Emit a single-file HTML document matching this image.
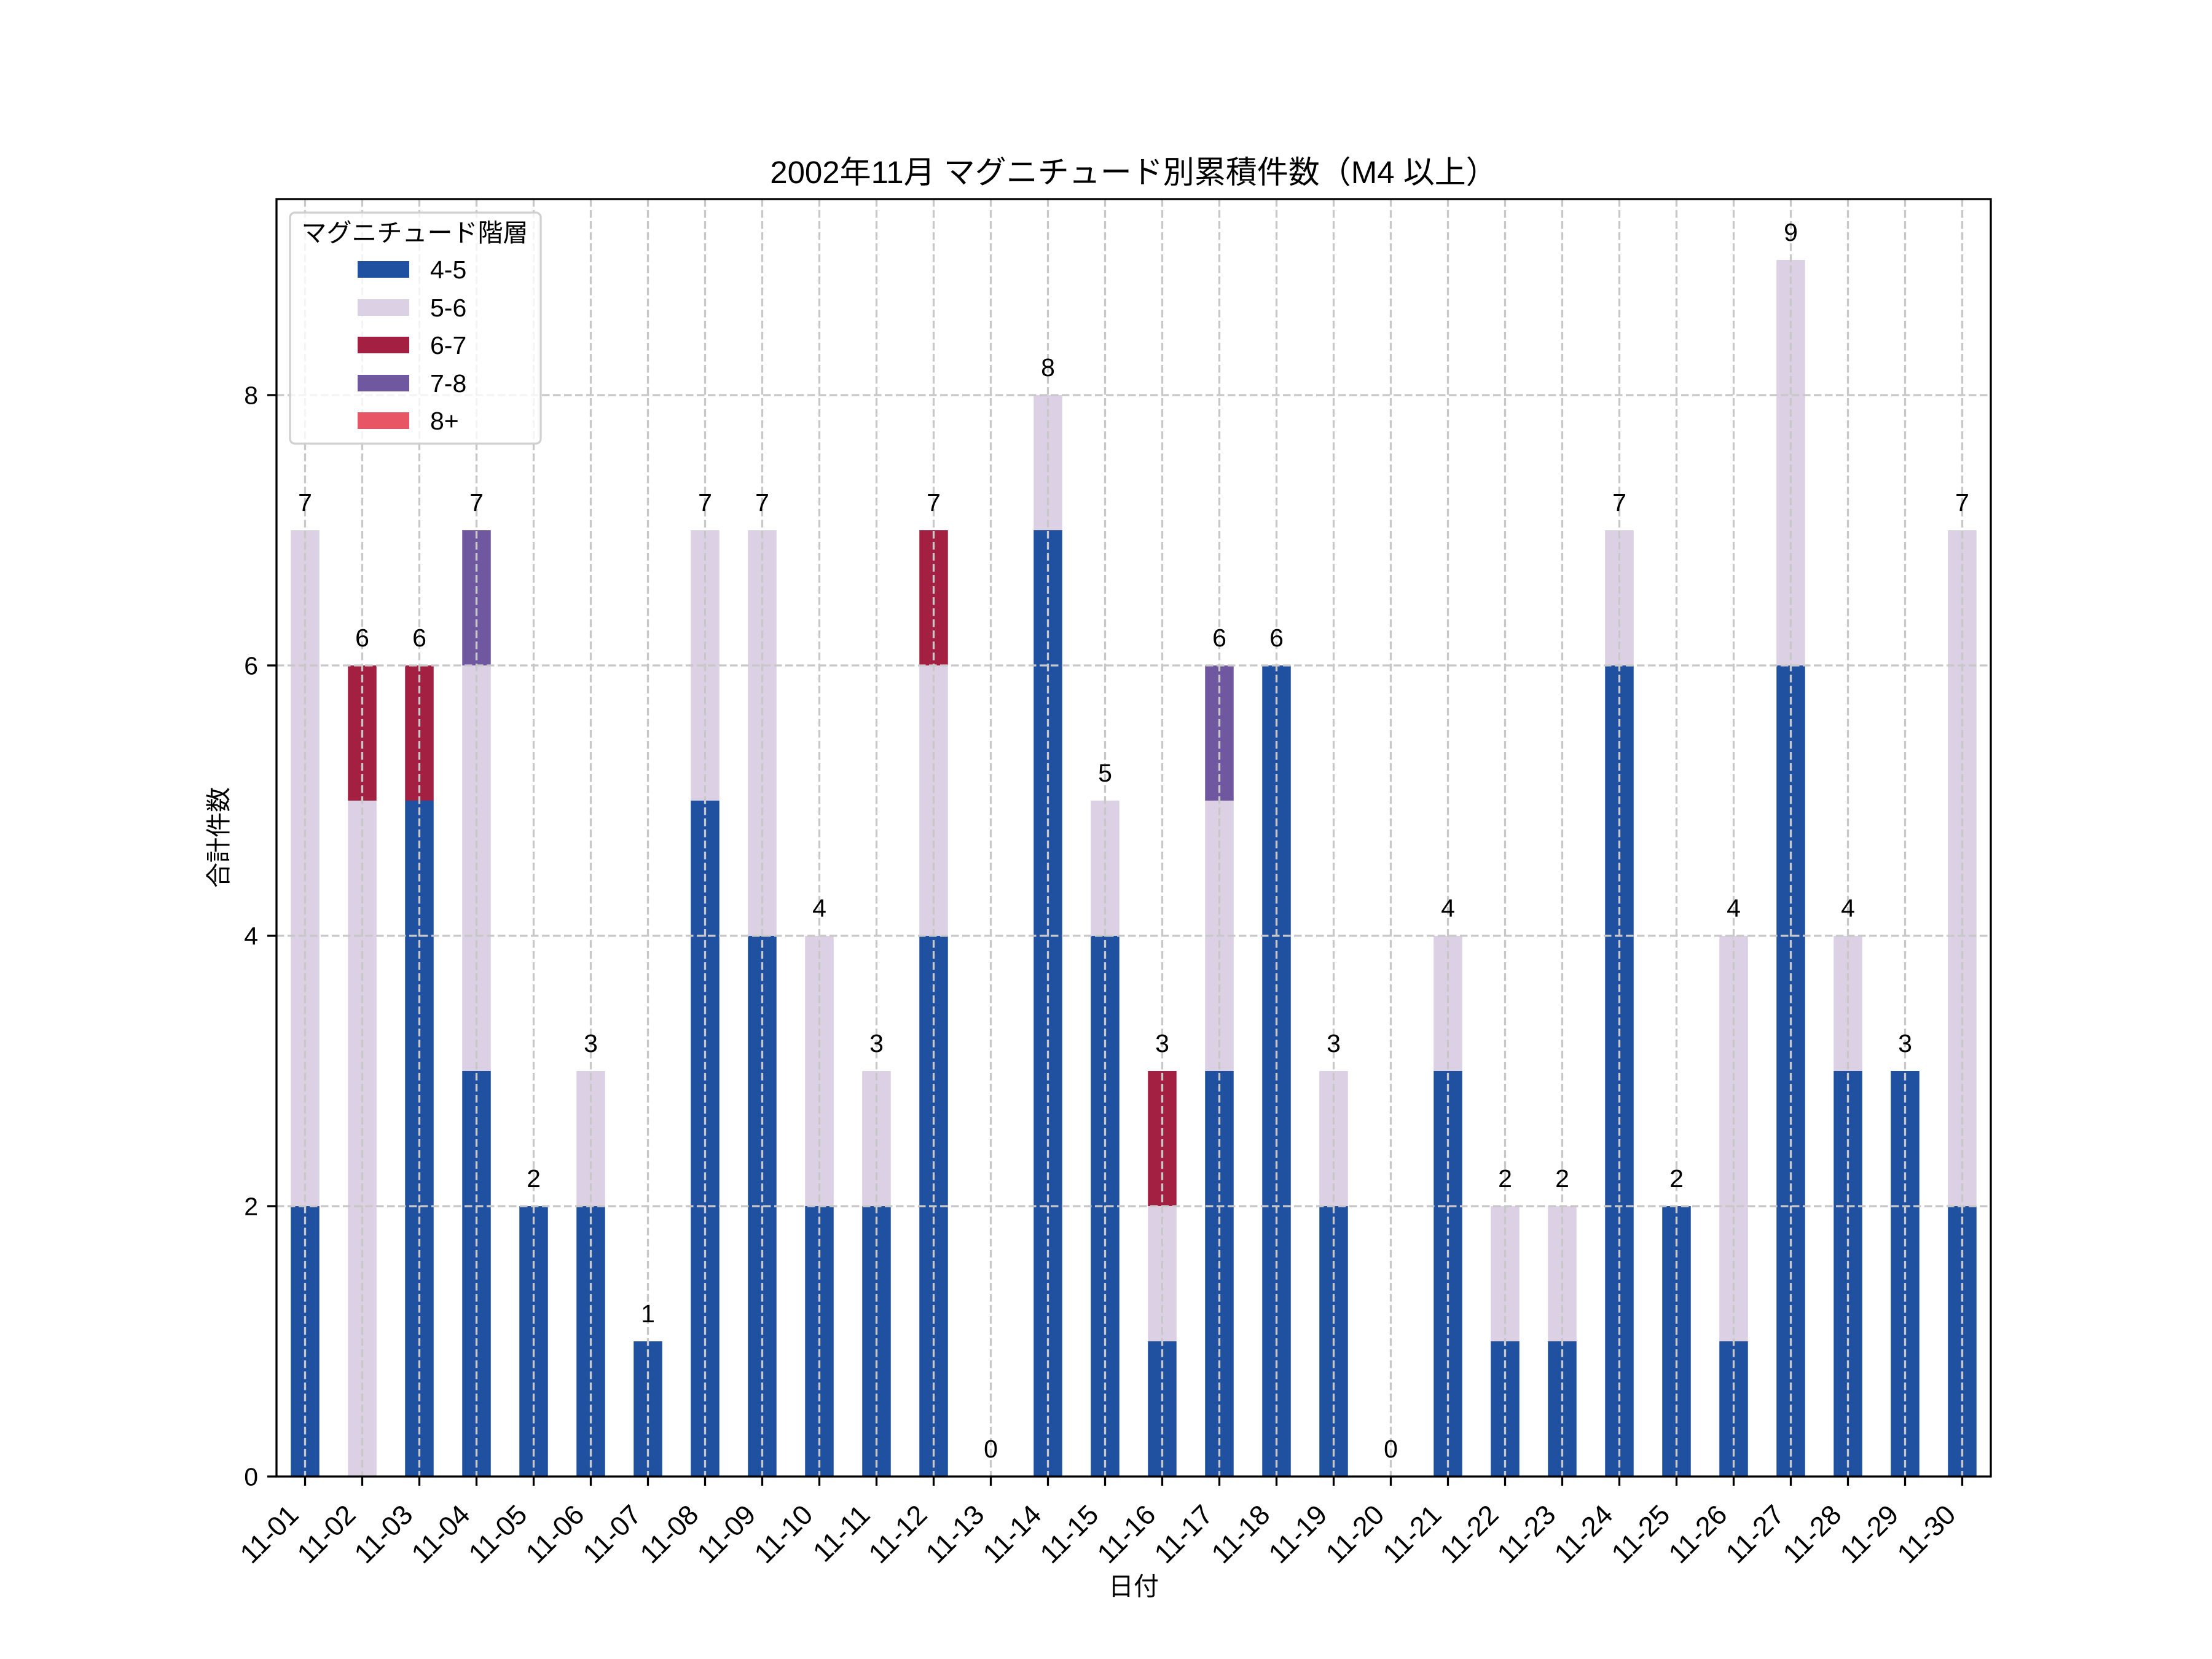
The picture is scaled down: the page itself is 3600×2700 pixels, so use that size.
<!DOCTYPE html>
<html><head><meta charset="utf-8"><style>
html,body{margin:0;padding:0;background:#fff}
svg{display:block}
text{font-family:"Liberation Sans","Noto Sans CJK JP",sans-serif;fill:#000}
</style></head><body>
<svg id="s" width="3600" height="2700" viewBox="0 0 3600 2700" xmlns="http://www.w3.org/2000/svg">
<rect width="3600" height="2700" fill="#fff"/>
<g id="bars"></g>
<g id="grid" stroke="#c8c8c8" stroke-width="3.3" stroke-dasharray="12.5,5.5" fill="none"></g>
<g id="labels" font-size="41" text-anchor="middle"></g>
<rect x="450" y="324" width="2790" height="2079" fill="none" stroke="#000" stroke-width="3.3"/>
<g id="ticks" stroke="#000" stroke-width="3.3"></g>
<g id="ticklabels" font-size="41"></g>
<g id="xticklabels" font-size="45"></g>
<text x="1845" y="298" font-size="51" text-anchor="middle">2002年11月 マグニチュード別累積件数（M4 以上）</text>
<text x="1845" y="2596" font-size="41" text-anchor="middle">日付</text>
<text transform="translate(370,1363) rotate(-90)" font-size="41" text-anchor="middle">合計件数</text>
<g>
<rect x="472" y="346" width="408" height="376" rx="8" fill="#fff" fill-opacity="0.8" stroke="#d0d0d0" stroke-width="3.3"/>
<text x="675" y="393" font-size="41" text-anchor="middle">マグニチュード階層</text>
<rect x="582" y="425" width="84" height="27" fill="#2050a0"/><text x="700" y="453" font-size="41">4-5</text>
<rect x="582" y="487" width="84" height="27" fill="#dcd0e5"/><text x="700" y="515" font-size="41">5-6</text>
<rect x="582" y="548" width="84" height="27" fill="#a32042"/><text x="700" y="576" font-size="41">6-7</text>
<rect x="582" y="610" width="84" height="27" fill="#7058a0"/><text x="700" y="638" font-size="41">7-8</text>
<rect x="582" y="671" width="84" height="27" fill="#e85565"/><text x="700" y="699" font-size="41">8+</text>
</g>
</svg>
<script>
const data=[[2,5],[0,5,1],[5,0,1],[3,3,0,1],[2],[2,1],[1],[5,2],[4,3],[2,2],[2,1],[4,2,1],[0],[7,1],[4,1],[1,1,1],[3,2,0,1],[6],[2,1],[0],[3,1],[1,1],[1,1],[6,1],[2],[1,3],[6,3],[3,1],[3],[2,5]];
const cols=["#2050a0","#dcd0e5","#a32042","#7058a0","#e85565"];
const NS="http://www.w3.org/2000/svg";
function el(p,t,a,txt){const e=document.createElementNS(NS,t);for(const k in a)e.setAttribute(k,a[k]);if(txt!==undefined)e.textContent=txt;document.getElementById(p).appendChild(e);}
const X0=450,Y0=2403,U=220,DX=93;
data.forEach((d,i)=>{
 const cx=X0+DX*(i+0.5);let acc=0;
 d.forEach((v,j)=>{if(v>0){el("bars","rect",{x:cx-23.25,y:Y0-(acc+v)*U,width:46.5,height:v*U,fill:cols[j]});}acc+=v;});
 el("labels","text",{x:cx,y:Y0-acc*U-31},String(acc));
 el("grid","line",{x1:cx,y1:324,x2:cx,y2:2403});
 el("ticks","line",{x1:cx,y1:2403,x2:cx,y2:2418});
 const dd=String(i+1).padStart(2,"0");
 el("xticklabels","text",{"text-anchor":"end",transform:`translate(${cx-8},2468) rotate(-45)`},"11-"+dd);
});
[0,2,4,6,8].forEach(v=>{
 const y=Y0-v*U;
 if(v>0)el("grid","line",{x1:450,y1:y,x2:3240,y2:y});
 el("ticks","line",{x1:435,y1:y,x2:450,y2:y});
 el("ticklabels","text",{x:420,y:y+14.5,"text-anchor":"end"},String(v));
});
</script>
</body></html>
